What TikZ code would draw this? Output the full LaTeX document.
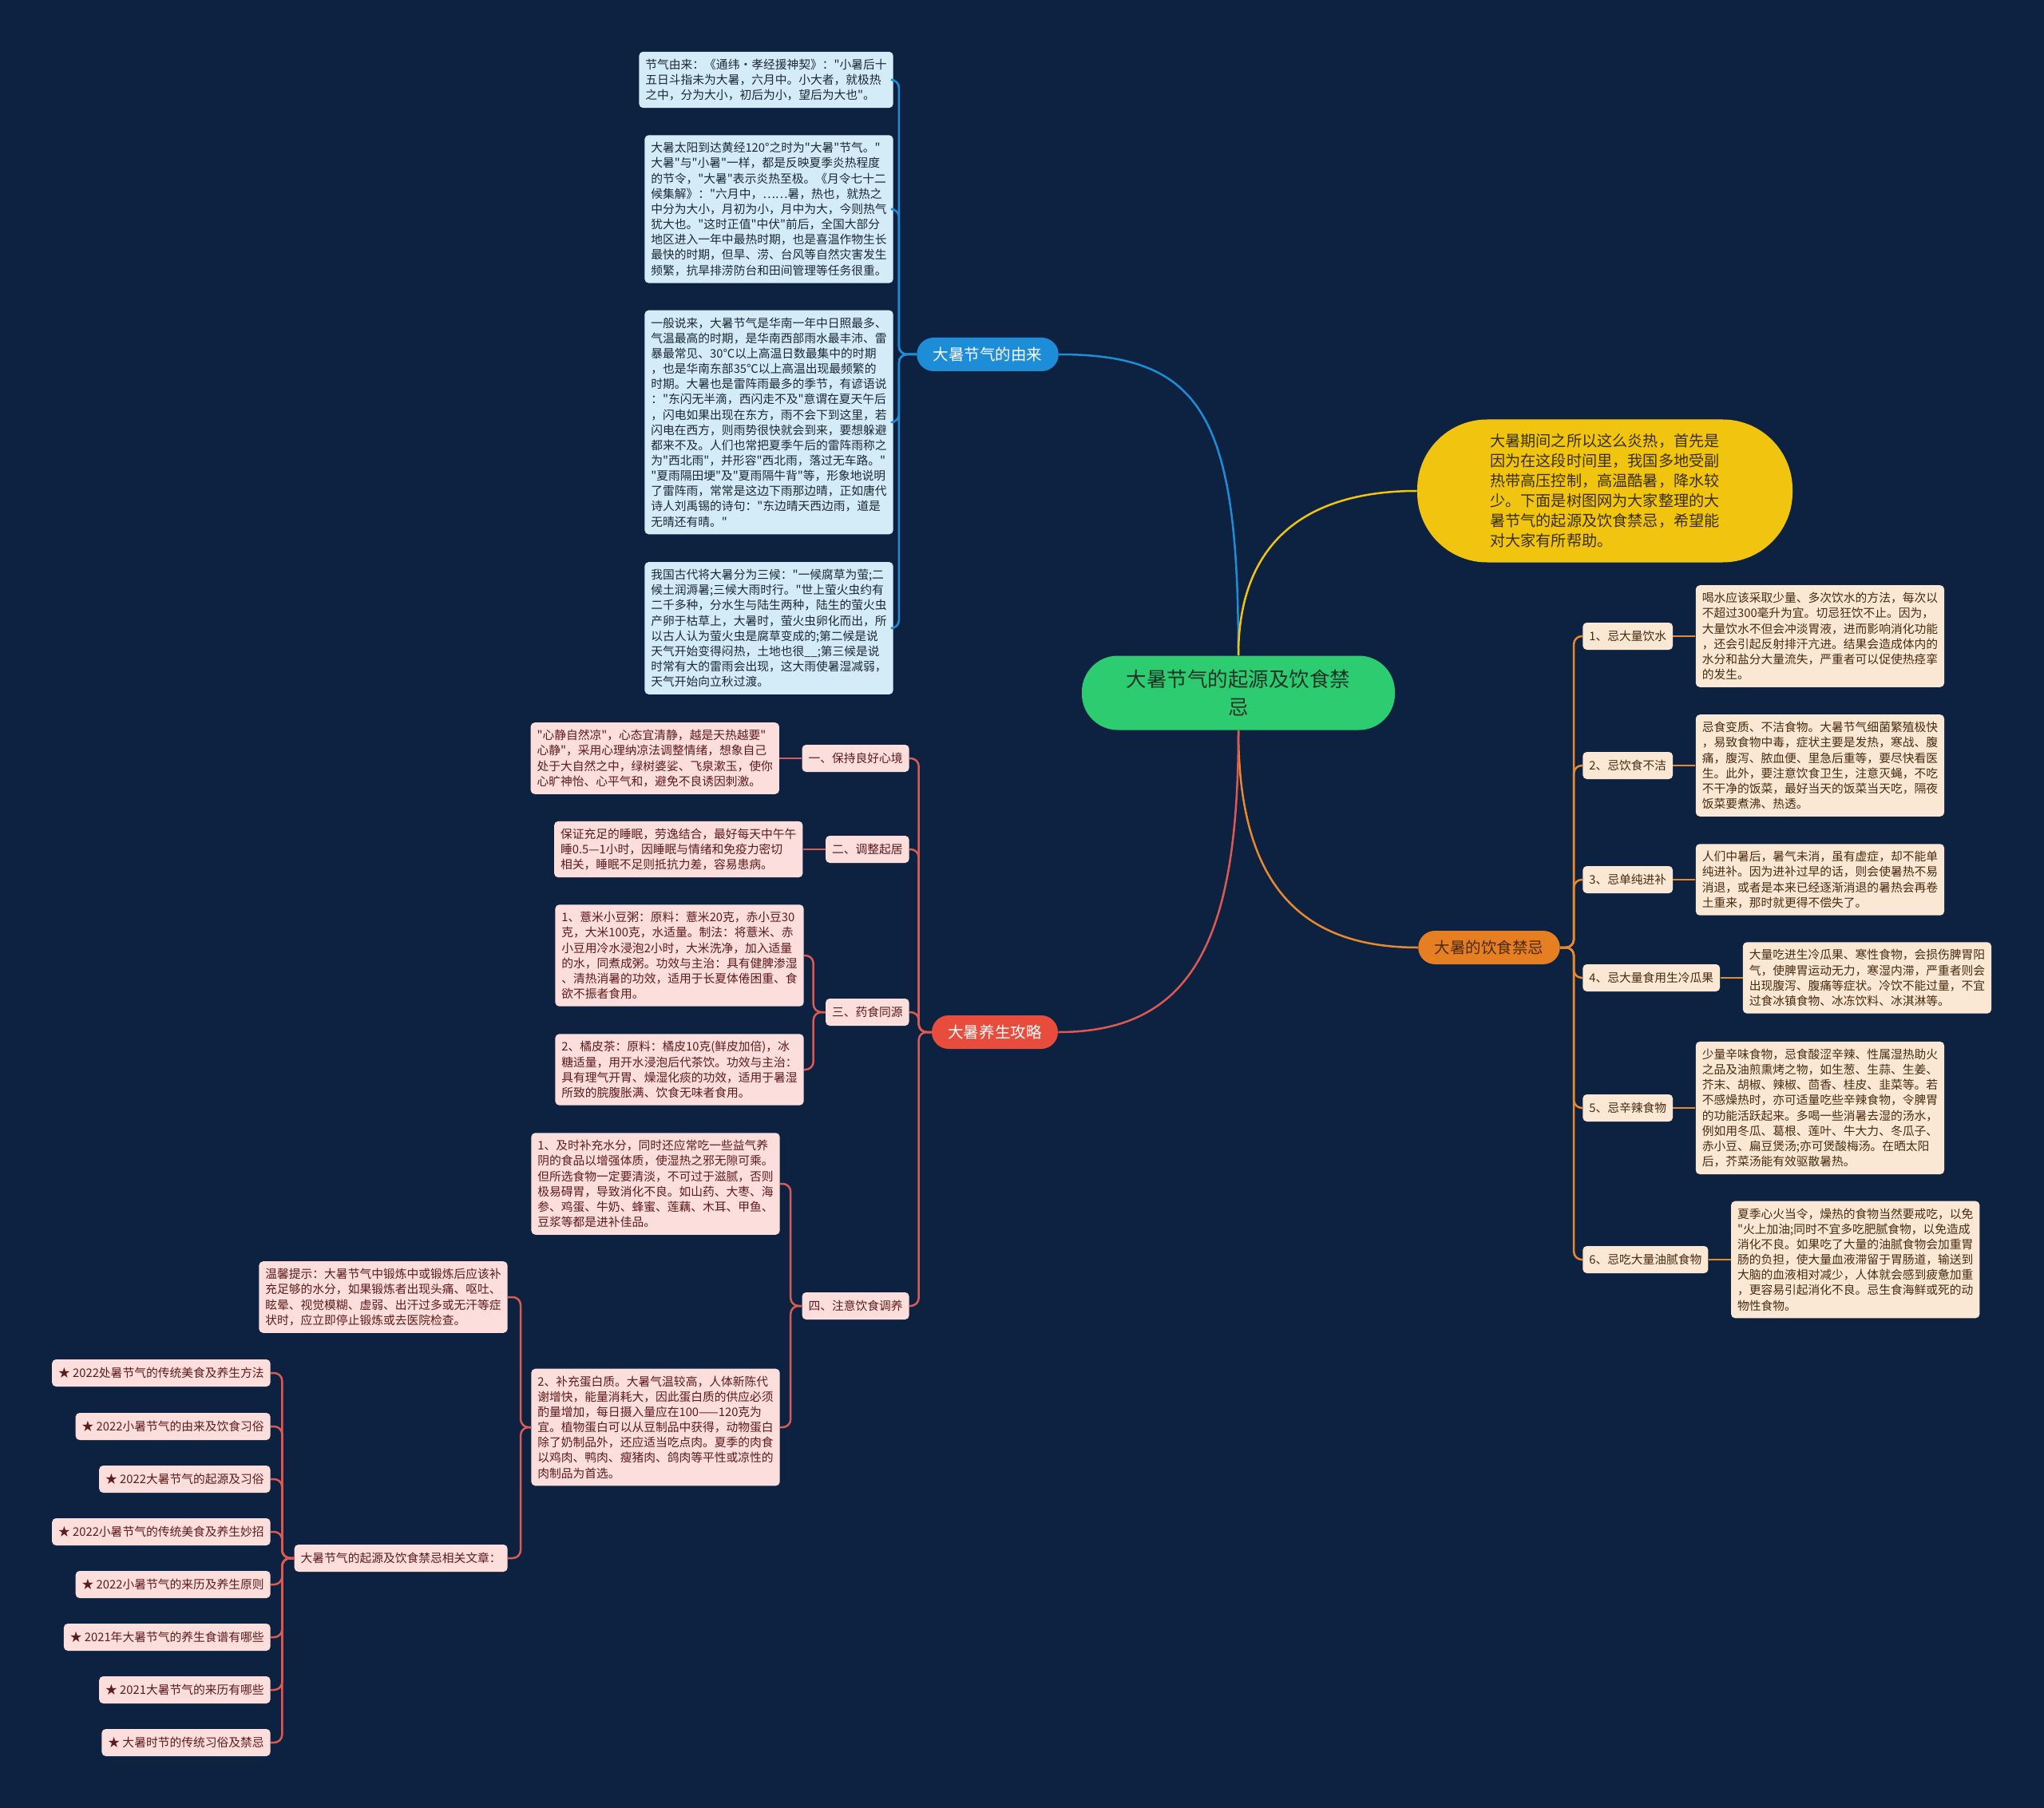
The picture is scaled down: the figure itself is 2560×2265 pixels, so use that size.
\documentclass[tikz,border=0pt]{standalone}
\usepackage{fontspec}
\setmainfont{Noto Sans CJK SC}[Ligatures=TeXOff]
\usetikzlibrary{positioning}

\definecolor{bgnavy}{HTML}{0C2240}
\definecolor{rootgreen}{HTML}{2ECC71}
\definecolor{rootink}{HTML}{1C3326}
\definecolor{bluemain}{HTML}{1D8DD8}
\definecolor{bluefill}{HTML}{D4ECF7}
\definecolor{blueink}{HTML}{1C2833}
\definecolor{yelfill}{HTML}{F1C40F}
\definecolor{yelink}{HTML}{3B3000}
\definecolor{orgmain}{HTML}{E67E22}
\definecolor{orgline}{HTML}{E8892F}
\definecolor{orgfill}{HTML}{FAE8D5}
\definecolor{orgink}{HTML}{4A2A10}
\definecolor{redmain}{HTML}{E74C3C}
\definecolor{redline}{HTML}{DC5A52}
\definecolor{redfill}{HTML}{FCDEDC}
\definecolor{redink}{HTML}{5E1B1B}

\newcommand{\leaffont}{\fontsize{8.4}{10.9}\selectfont}
\newcommand{\branchfont}{\fontsize{11.1}{13}\selectfont}
\newcommand{\rootfont}{\fontsize{14.5}{19.4}\selectfont}
\newcommand{\notefont}{\fontsize{10.9}{14.2}\selectfont}

\tikzset{
  leafbox/.style={rounded corners=1mm, align=left, inner xsep=1.6mm, inner ysep=1.8mm, font=\leaffont},
  bluebox/.style={leafbox, fill=bluefill, text=blueink},
  redbox/.style={leafbox, fill=redfill, text=redink},
  orgbox/.style={leafbox, fill=orgfill, text=orgink},
  tagbox/.style={rounded corners=1mm, inner xsep=1.6mm, inner ysep=0pt, minimum height=6.8mm, font=\leaffont},
  redtag/.style={tagbox, fill=redfill, text=redink},
  orgtag/.style={tagbox, fill=orgfill, text=orgink},
  branchbox/.style={rounded corners=4.2mm, minimum height=8.4mm, inner xsep=4.1mm, inner ysep=0pt, font=\branchfont},
  rootbox/.style={rounded corners=9mm, fill=rootgreen, text=rootink, align=center, minimum width=78.4mm, minimum height=18.6mm, font=\rootfont},
  notebox/.style={rounded corners=17.5mm, fill=yelfill, text=yelink, align=left, minimum width=94mm, minimum height=35.8mm, font=\notefont},
  linkline/.style={line width=0.5mm, rounded corners=2mm},
  blink/.style={linkline, draw=bluemain},
  rlink/.style={linkline, draw=redline},
  olink/.style={linkline, draw=orgline},
  ylink/.style={linkline, draw=yelfill}
}

\begin{document}
\begin{tikzpicture}[x=0.2mm,y=-0.2mm]
\fill[bgnavy] (0,0) rectangle (2560,2265);

\node[rootbox] (root) at (1551,868) {大暑节气的起源及饮食禁\\忌};
\node[branchbox, fill=bluemain, text=white] (youlai) at (1237,444) {大暑节气的由来};
\node[notebox] (yel) at (2010,615) {大暑期间之所以这么炎热，首先是\\
  因为在这段时间里，我国多地受副\\
  热带高压控制，高温酷暑，降水较\\
  少。下面是树图网为大家整理的大\\
  暑节气的起源及饮食禁忌，希望能\\
  对大家有所帮助。};
\node[branchbox, fill=orgmain, text=orgink] (jinji) at (1865,1187) {大暑的饮食禁忌};
\node[branchbox, fill=redmain, text=white] (gonglue) at (1246,1293) {大暑养生攻略};

\draw[blink] (root.north) .. controls +(0,-300) and +(180,0) .. (youlai.east);
\draw[ylink] (root.north) .. controls +(0,-150) and +(-130,0) .. (yel.west);
\draw[olink] (root.south) .. controls +(0,190) and +(-150,0) .. (jinji.west);
\draw[rlink] (root.south) .. controls +(0,260) and +(170,0) .. (gonglue.east);

% origin of the solar term
\node[bluebox, anchor=east] (b1) at (1119,100) {节气由来：《通纬·孝经援神契》："小暑后十\\
  五日斗指未为大暑，六月中。小大者，就极热\\
  之中，分为大小，初后为小，望后为大也"。};
\node[bluebox, anchor=east] (b2) at (1119,262) {大暑太阳到达黄经120°之时为"大暑"节气。"\\
  大暑"与"小暑"一样，都是反映夏季炎热程度\\
  的节令，"大暑"表示炎热至极。《月令七十二\\
  候集解》："六月中，……暑，热也，就热之\\
  中分为大小，月初为小，月中为大，今则热气\\
  犹大也。"这时正值"中伏"前后，全国大部分\\
  地区进入一年中最热时期，也是喜温作物生长\\
  最快的时期，但旱、涝、台风等自然灾害发生\\
  频繁，抗旱排涝防台和田间管理等任务很重。};
\node[bluebox, anchor=east] (b3) at (1119,529) {一般说来，大暑节气是华南一年中日照最多、\\
  气温最高的时期，是华南西部雨水最丰沛、雷\\
  暴最常见、30℃以上高温日数最集中的时期\\
  ，也是华南东部35℃以上高温出现最频繁的\\
  时期。大暑也是雷阵雨最多的季节，有谚语说\\
  ："东闪无半滴，西闪走不及"意谓在夏天午后\\
  ，闪电如果出现在东方，雨不会下到这里，若\\
  闪电在西方，则雨势很快就会到来，要想躲避\\
  都来不及。人们也常把夏季午后的雷阵雨称之\\
  为"西北雨"，并形容"西北雨，落过无车路。"\\
  "夏雨隔田埂"及"夏雨隔牛背"等，形象地说明\\
  了雷阵雨，常常是这边下雨那边晴，正如唐代\\
  诗人刘禹锡的诗句："东边晴天西边雨，道是\\
  无晴还有晴。"};
\node[bluebox, anchor=east] (b4) at (1119,787) {我国古代将大暑分为三候："一候腐草为萤;二\\
  候土润溽暑;三候大雨时行。"世上萤火虫约有\\
  二千多种，分水生与陆生两种，陆生的萤火虫\\
  产卵于枯草上，大暑时，萤火虫卵化而出，所\\
  以古人认为萤火虫是腐草变成的;第二候是说\\
  天气开始变得闷热，土地也很\_\_;第三候是说\\
  时常有大的雷雨会出现，这大雨使暑湿减弱，\\
  天气开始向立秋过渡。};

\draw[blink] (youlai.west) -- ++(-22,0) |- (b1.east);
\draw[blink] (youlai.west) -- ++(-22,0) |- (b2.east);
\draw[blink] (youlai.west) -- ++(-22,0) |- (b3.east);
\draw[blink] (youlai.west) -- ++(-22,0) |- (b4.east);

% health tips
\node[redtag, anchor=east] (rt1) at (1139,950) {一、保持良好心境};
\node[redtag, anchor=east] (rt2) at (1139,1064) {二、调整起居};
\node[redtag, anchor=east] (rt3) at (1139,1268) {三、药食同源};
\node[redtag, anchor=east] (rt4) at (1139,1636) {四、注意饮食调养};

\node[redbox, left=5.6mm of rt1] (p1) {"心静自然凉"，心态宜清静，越是天热越要"\\
  心静"，采用心理纳凉法调整情绪，想象自己\\
  处于大自然之中，绿树婆娑、飞泉漱玉，使你\\
  心旷神怡、心平气和，避免不良诱因刺激。};
\node[redbox, left=5.6mm of rt2] (p2) {保证充足的睡眠，劳逸结合，最好每天中午午\\
  睡0.5—1小时，因睡眠与情绪和免疫力密切\\
  相关，睡眠不足则抵抗力差，容易患病。};
\node[redbox, anchor=east] (p3a) at (1007,1197) {1、薏米小豆粥：原料：薏米20克，赤小豆30\\
  克，大米100克，水适量。制法：将薏米、赤\\
  小豆用冷水浸泡2小时，大米洗净，加入适量\\
  的水，同煮成粥。功效与主治：具有健脾渗湿\\
  、清热消暑的功效，适用于长夏体倦困重、食\\
  欲不振者食用。};
\node[redbox, anchor=east] (p3b) at (1007,1340) {2、橘皮茶：原料：橘皮10克(鲜皮加倍)，冰\\
  糖适量，用开水浸泡后代茶饮。功效与主治：\\
  具有理气开胃、燥湿化痰的功效，适用于暑湿\\
  所致的脘腹胀满、饮食无味者食用。};
\node[redbox, anchor=east] (p4a) at (977,1483) {1、及时补充水分，同时还应常吃一些益气养\\
  阴的食品以增强体质，使湿热之邪无隙可乘。\\
  但所选食物一定要清淡，不可过于滋腻，否则\\
  极易碍胃，导致消化不良。如山药、大枣、海\\
  参、鸡蛋、牛奶、蜂蜜、莲藕、木耳、甲鱼、\\
  豆浆等都是进补佳品。};
\node[redbox, anchor=east] (p4b) at (977,1788) {2、补充蛋白质。大暑气温较高，人体新陈代\\
  谢增快，能量消耗大，因此蛋白质的供应必须\\
  酌量增加，每日摄入量应在100——120克为\\
  宜。植物蛋白可以从豆制品中获得，动物蛋白\\
  除了奶制品外，还应适当吃点肉。夏季的肉食\\
  以鸡肉、鸭肉、瘦猪肉、鸽肉等平性或凉性的\\
  肉制品为首选。};
\node[redbox, anchor=east] (tip) at (636,1625) {温馨提示：大暑节气中锻炼中或锻炼后应该补\\
  充足够的水分，如果锻炼者出现头痛、呕吐、\\
  眩晕、视觉模糊、虚弱、出汗过多或无汗等症\\
  状时，应立即停止锻炼或去医院检查。};
\node[redtag, anchor=east] (wz) at (636,1952) {大暑节气的起源及饮食禁忌相关文章：};

\node[redtag, anchor=east] (w1) at (339,1720) {★ 2022处暑节气的传统美食及养生方法};
\node[redtag, anchor=east] (w2) at (339,1787) {★ 2022小暑节气的由来及饮食习俗};
\node[redtag, anchor=east] (w3) at (339,1853) {★ 2022大暑节气的起源及习俗};
\node[redtag, anchor=east] (w4) at (339,1919) {★ 2022小暑节气的传统美食及养生妙招};
\node[redtag, anchor=east] (w5) at (339,1985) {★ 2022小暑节气的来历及养生原则};
\node[redtag, anchor=east] (w6) at (339,2051) {★ 2021年大暑节气的养生食谱有哪些};
\node[redtag, anchor=east] (w7) at (339,2117) {★ 2021大暑节气的来历有哪些};
\node[redtag, anchor=east] (w8) at (339,2183) {★ 大暑时节的传统习俗及禁忌};

\draw[rlink] (gonglue.west) -- ++(-16,0) |- (rt1.east);
\draw[rlink] (gonglue.west) -- ++(-16,0) |- (rt2.east);
\draw[rlink] (gonglue.west) -- ++(-16,0) |- (rt3.east);
\draw[rlink] (gonglue.west) -- ++(-16,0) |- (rt4.east);
\draw[rlink] (rt1.west) -- (p1.east);
\draw[rlink] (rt2.west) -- (p2.east);
\draw[rlink] (rt3.west) -- ++(-15,0) |- (p3a.east);
\draw[rlink] (rt3.west) -- ++(-15,0) |- (p3b.east);
\draw[rlink] (rt4.west) -- ++(-14,0) |- (p4a.east);
\draw[rlink] (rt4.west) -- ++(-14,0) |- (p4b.east);
\draw[rlink] (p4b.west) -- ++(-13,0) |- (tip.east);
\draw[rlink] (p4b.west) -- ++(-13,0) |- (wz.east);
\draw[rlink] (wz.west) -- ++(-15,0) |- (w1.east);
\draw[rlink] (wz.west) -- ++(-15,0) |- (w2.east);
\draw[rlink] (wz.west) -- ++(-15,0) |- (w3.east);
\draw[rlink] (wz.west) -- ++(-15,0) |- (w4.east);
\draw[rlink] (wz.west) -- ++(-15,0) |- (w5.east);
\draw[rlink] (wz.west) -- ++(-15,0) |- (w6.east);
\draw[rlink] (wz.west) -- ++(-15,0) |- (w7.east);
\draw[rlink] (wz.west) -- ++(-15,0) |- (w8.east);

% dietary taboos
\node[orgtag, anchor=west] (ot1) at (1982,797) {1、忌大量饮水};
\node[orgtag, anchor=west] (ot2) at (1982,959) {2、忌饮食不洁};
\node[orgtag, anchor=west] (ot3) at (1982,1102) {3、忌单纯进补};
\node[orgtag, anchor=west] (ot4) at (1982,1225) {4、忌大量食用生冷瓜果};
\node[orgtag, anchor=west] (ot5) at (1982,1388) {5、忌辛辣食物};
\node[orgtag, anchor=west] (ot6) at (1982,1578) {6、忌吃大量油腻食物};

\node[orgbox, right=5.6mm of ot1] (r1) {喝水应该采取少量、多次饮水的方法，每次以\\
  不超过300毫升为宜。切忌狂饮不止。因为，\\
  大量饮水不但会冲淡胃液，进而影响消化功能\\
  ，还会引起反射排汗亢进。结果会造成体内的\\
  水分和盐分大量流失，严重者可以促使热痉挛\\
  的发生。};
\node[orgbox, right=5.6mm of ot2] (r2) {忌食变质、不洁食物。大暑节气细菌繁殖极快\\
  ，易致食物中毒，症状主要是发热，寒战、腹\\
  痛，腹泻、脓血便、里急后重等，要尽快看医\\
  生。此外，要注意饮食卫生，注意灭蝇，不吃\\
  不干净的饭菜，最好当天的饭菜当天吃，隔夜\\
  饭菜要煮沸、热透。};
\node[orgbox, right=5.6mm of ot3] (r3) {人们中暑后，暑气未消，虽有虚症，却不能单\\
  纯进补。因为进补过早的话，则会使暑热不易\\
  消退，或者是本来已经逐渐消退的暑热会再卷\\
  土重来，那时就更得不偿失了。};
\node[orgbox, right=5.6mm of ot4] (r4) {大量吃进生冷瓜果、寒性食物，会损伤脾胃阳\\
  气，使脾胃运动无力，寒湿内滞，严重者则会\\
  出现腹泻、腹痛等症状。冷饮不能过量，不宜\\
  过食冰镇食物、冰冻饮料、冰淇淋等。};
\node[orgbox, right=5.6mm of ot5] (r5) {少量辛味食物，忌食酸涩辛辣、性属湿热助火\\
  之品及油煎熏烤之物，如生葱、生蒜、生姜、\\
  芥末、胡椒、辣椒、茴香、桂皮、韭菜等。若\\
  不感燥热时，亦可适量吃些辛辣食物，令脾胃\\
  的功能活跃起来。多喝一些消暑去湿的汤水，\\
  例如用冬瓜、葛根、莲叶、牛大力、冬瓜子、\\
  赤小豆、扁豆煲汤;亦可煲酸梅汤。在晒太阳\\
  后，芥菜汤能有效驱散暑热。};
\node[orgbox, right=5.6mm of ot6] (r6) {夏季心火当令，燥热的食物当然要戒吃，以免\\
  "火上加油;同时不宜多吃肥腻食物，以免造成\\
  消化不良。如果吃了大量的油腻食物会加重胃\\
  肠的负担，使大量血液滞留于胃肠道，输送到\\
  大脑的血液相对减少，人体就会感到疲惫加重\\
  ，更容易引起消化不良。忌生食海鲜或死的动\\
  物性食物。};

\draw[olink] (jinji.east) -- ++(17,0) |- (ot1.west);
\draw[olink] (jinji.east) -- ++(17,0) |- (ot2.west);
\draw[olink] (jinji.east) -- ++(17,0) |- (ot3.west);
\draw[olink] (jinji.east) -- ++(17,0) |- (ot4.west);
\draw[olink] (jinji.east) -- ++(17,0) |- (ot5.west);
\draw[olink] (jinji.east) -- ++(17,0) |- (ot6.west);
\draw[olink] (ot1.east) -- (r1.west);
\draw[olink] (ot2.east) -- (r2.west);
\draw[olink] (ot3.east) -- (r3.west);
\draw[olink] (ot4.east) -- (r4.west);
\draw[olink] (ot5.east) -- (r5.west);
\draw[olink] (ot6.east) -- (r6.west);
\end{tikzpicture}
\end{document}
